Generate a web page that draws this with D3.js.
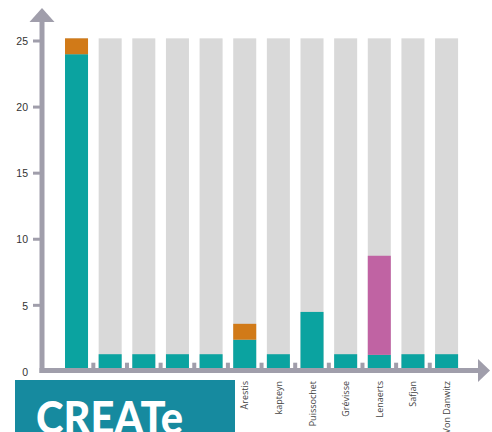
<!DOCTYPE html>
<html><head><meta charset="utf-8">
<script src="https://cdn.jsdelivr.net/npm/d3@7"></script>
<style>
html,body{margin:0;padding:0;background:#fff;}
svg{display:block;font-family:"Open Sans","Noto Sans",sans-serif;}
</style></head>
<body><svg id="c" width="492" height="432"></svg>
<script>
const categories = ["c1","c2","c3","c4","c5","Årestis","kapteyn","Puissochet","Grévisse","Lenaerts","Safjan","Von Danwitz"];
const xLabels = ["","","","","","Årestis","kapteyn","Puissochet","Grévisse","Lenaerts","Safjan","Von Danwitz"];
const tealValues   = [24.0, 1.3, 1.3, 1.3, 1.3, 2.4, 1.3, 4.5, 1.3, 1.25, 1.3, 1.3];
const orangeValues = [1.2, 0, 0, 0, 0, 1.2, 0, 0, 0, 0, 0, 0];
const pinkValues   = [0, 0, 0, 0, 0, 0, 0, 0, 0, 7.5, 0, 0];
const backgroundValue = 25.2;
const yTicks = [0, 5, 10, 15, 20, 25];

const svg = d3.select("#c");
const axisCol = "#a09eab";
const x = d3.scaleBand().domain(categories).range([59.7, 463.4]).paddingInner(0.316).paddingOuter(0.158);
const y = d3.scaleLinear().domain([0, 25]).range([371.4, 41]);

const rows = categories.map((c,i)=>({c, i, teal: tealValues[i], orange: orangeValues[i], pink: pinkValues[i]}));
const stack = d3.stack().keys(["teal","orange","pink"])(rows);
const colors = {teal:"#0ba3a0", orange:"#d17a18", pink:"#c063a3"};

// background bars
svg.append("g").selectAll("rect").data(rows).join("rect")
  .attr("x", d=>x(d.c)).attr("width", x.bandwidth())
  .attr("y", y(backgroundValue)).attr("height", y(0)-y(backgroundValue))
  .attr("fill", "#d9d9d9");

// stacked bars
svg.append("g").selectAll("g").data(stack).join("g")
  .attr("fill", s=>colors[s.key])
  .selectAll("rect").data(s=>s.filter(d=>d[1]>d[0])).join("rect")
  .attr("x", d=>x(d.data.c)).attr("width", x.bandwidth())
  .attr("y", d=>y(d[1])).attr("height", d=>y(d[0])-y(d[1]));

// y axis
const yAxis = d3.axisLeft(y).tickValues(yTicks).tickSize(0).tickPadding(0);
const gy = svg.append("g").attr("transform","translate(28,0)").call(yAxis);
gy.select(".domain").remove();
gy.selectAll("text").attr("font-size","10.5px").attr("fill","#333").attr("dy","0.35em").attr("x",0);
// y tick marks
svg.append("g").selectAll("rect").data(yTicks.filter(t=>t>0)).join("rect")
  .attr("x",33).attr("width",8).attr("y",t=>y(t)-1.5).attr("height",3).attr("fill",axisCol);
// y axis line + arrow
svg.append("rect").attr("x",39.5).attr("y",20).attr("width",5).attr("height",353).attr("fill",axisCol);
svg.append("path").attr("d","M42,8 L54.5,22 L29.5,22 Z").attr("fill",axisCol);

// x small ticks between bars
const step = x.step();
svg.append("g").selectAll("rect").data(categories.slice(1)).join("rect")
  .attr("x", c=>x(c) - step*x.paddingInner()/2 - 2).attr("width",4)
  .attr("y",362.7).attr("height",6).attr("fill",axisCol);
// x axis line + arrow
svg.append("rect").attr("x",39.5).attr("y",368).attr("width",440).attr("height",5).attr("fill",axisCol);
svg.append("path").attr("d","M490,370.5 L478,359 L478,382 Z").attr("fill",axisCol);

// x labels
svg.append("g").selectAll("text").data(rows.filter(d=>xLabels[d.i])).join("text")
  .attr("transform", d=>`translate(${x(d.c)+x.bandwidth()/2+3.5},381) rotate(-90)`)
  .attr("text-anchor","end").attr("font-size","9px").attr("fill","#444")
  .text(d=>xLabels[d.i]);

// CREATe logo box
svg.append("rect").attr("x",15).attr("y",380).attr("width",220).attr("height",60).attr("fill","#168a9f");
svg.append("text").attr("x",36).attr("y",434).attr("font-family","Lato, 'Open Sans', sans-serif")
  .attr("font-weight","900").attr("font-size","46px").attr("fill","#fff")
  .attr("textLength",147).attr("lengthAdjust","spacingAndGlyphs").text("CREATe");
</script></body></html>
